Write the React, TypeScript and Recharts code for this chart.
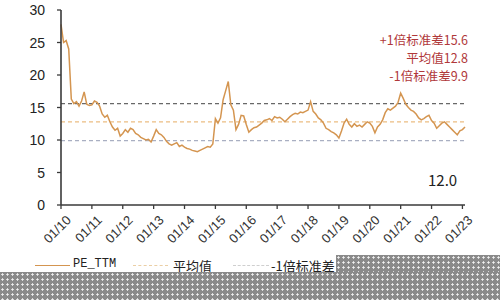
import { LineChart, Line, XAxis, YAxis, ReferenceLine } from 'recharts'

// month index 0 = 2010-01
const YEAR_LABELS = ['01/10', '01/11', '01/12', '01/13', '01/14', '01/15', '01/16', '01/17', '01/18', '01/19', '01/20', '01/21', '01/22', '01/23']
const Y_TICKS = [0, 5, 10, 15, 20, 25, 30]

const PE_2010 = [27.8, 25.0, 25.3, 24.0, 16.3, 15.6, 15.9, 15.2, 16.0, 17.4, 15.5, 15.3]
const PE_2011 = [15.4, 16.0, 15.8, 15.2, 14.0, 13.5, 13.8, 12.8, 12.0, 11.5, 11.8, 10.6]
const PE_2012 = [11.0, 11.6, 11.2, 11.8, 11.6, 11.0, 10.8, 10.4, 10.2, 10.0, 10.1, 9.7]
const PE_2013 = [10.6, 11.6, 11.0, 10.8, 10.4, 9.8, 9.4, 9.2, 9.4, 9.6, 9.0, 9.2]
const PE_2014 = [8.9, 8.7, 8.6, 8.4, 8.3, 8.2, 8.4, 8.6, 8.8, 9.0, 8.9, 9.4]
const PE_2015 = [13.3, 12.6, 13.4, 16.2, 17.6, 19.0, 15.4, 14.6, 11.6, 12.4, 13.8, 13.7]
const PE_2016 = [12.4, 11.2, 11.6, 11.9, 12.0, 12.3, 12.6, 13.0, 13.1, 13.3, 13.0, 13.6]
const PE_2017 = [13.4, 13.5, 13.2, 12.8, 13.2, 13.6, 13.9, 14.1, 14.0, 14.3, 14.2, 14.4]
const PE_2018 = [14.6, 15.9, 14.4, 14.0, 13.4, 13.1, 12.6, 11.8, 11.6, 11.3, 11.1, 10.8]
const PE_2019 = [10.3, 11.4, 12.6, 13.2, 12.4, 12.0, 12.5, 12.1, 12.3, 12.0, 12.4, 12.8]
const PE_2020 = [12.6, 12.1, 11.1, 12.0, 12.4, 13.1, 14.2, 14.8, 14.6, 14.9, 15.2, 15.8]
const PE_2021 = [17.2, 16.4, 15.5, 15.0, 14.6, 14.4, 14.0, 13.4, 13.1, 13.3, 13.6, 13.8]
const PE_2022 = [13.0, 12.6, 11.8, 12.2, 12.6, 12.8, 12.4, 12.0, 11.6, 11.2, 10.8, 11.4]
const PE_2023 = [11.6, 12.0]

const PLUS_STD = 15.6
const MEAN = 12.8
const MINUS_STD = 9.9
const LAST = 12.0

const peSeries = [
  ...PE_2010, ...PE_2011, ...PE_2012, ...PE_2013, ...PE_2014, ...PE_2015, ...PE_2016,
  ...PE_2017, ...PE_2018, ...PE_2019, ...PE_2020, ...PE_2021, ...PE_2022, ...PE_2023,
]
const data = peSeries.map((pe, i) => ({ m: i, pe }))
const xTicks = YEAR_LABELS.map((_, i) => i * 12)

const LINE_COLOR = '#d49550'
const AXIS_COLOR = '#3a3a3a'
const CJK = "'Noto Sans CJK SC', sans-serif"
const SANS = "'Liberation Sans', Arial, sans-serif"

type TickProps = { x?: number; y?: number; payload?: { value: number } }

function XTick({ x, y, payload }: TickProps) {
  const label = YEAR_LABELS[Math.round((payload?.value ?? 0) / 12)]
  return (
    <g transform={`translate(${(x ?? 0) + 4},${(y ?? 0) + 3})`}>
      <text textAnchor="end" transform="rotate(-45)" dy="0.75em" fontSize={13} fill="#333" fontFamily={SANS}>
        {label}
      </text>
    </g>
  )
}

function YTick({ x, y, payload }: TickProps) {
  // x arrives at the end of the tick line
  return (
    <text x={(x ?? 0) - 10} y={y} textAnchor="end" dy="0.36em" fontSize={14} fill="#222" fontFamily={SANS}>
      {payload?.value}
    </text>
  )
}

export default function App() {
  return (
    <div style={{ position: 'absolute', left: 0, top: 0, width: 500, height: 300, background: '#fff' }}>
      <LineChart width={500} height={300} data={data} margin={{ top: 10, right: 35, left: 0, bottom: 0 }}>
        <XAxis
          dataKey="m"
          type="number"
          domain={[0, 157]}
          ticks={xTicks}
          interval={0}
          tick={<XTick />}
          height={95}
          tickSize={4}
          stroke={AXIS_COLOR}
          axisLine={{ stroke: AXIS_COLOR, strokeWidth: 1.6 }}
          tickLine={{ stroke: AXIS_COLOR, strokeWidth: 1.3 }}
        />
        <YAxis
          domain={[0, 30]}
          ticks={Y_TICKS}
          width={61}
          tickSize={4}
          tick={<YTick />}
          stroke={AXIS_COLOR}
          axisLine={{ stroke: AXIS_COLOR, strokeWidth: 1.6 }}
          tickLine={{ stroke: AXIS_COLOR, strokeWidth: 1.3 }}
        />
        <ReferenceLine y={PLUS_STD} stroke="#686868" strokeDasharray="4 3" strokeWidth={1.3} />
        <ReferenceLine y={MEAN} stroke="#ebbd82" strokeDasharray="4 3" strokeWidth={1.2} />
        <ReferenceLine y={MINUS_STD} stroke="#a9afc2" strokeDasharray="4 3" strokeWidth={1.2} />
        <Line
          type="linear"
          dataKey="pe"
          stroke={LINE_COLOR}
          strokeWidth={1.5}
          dot={false}
          isAnimationActive={false}
        />
      </LineChart>

      {/* annotations */}
      <div style={{ position: 'absolute', right: 32, top: 31, textAlign: 'right', color: '#b0383a', fontFamily: CJK, fontSize: 12.5, lineHeight: '18px' }}>
        <div>+1倍标准差{PLUS_STD.toFixed(1)}</div>
        <div>平均值{MEAN.toFixed(1)}</div>
        <div>-1倍标准差{MINUS_STD.toFixed(1)}</div>
      </div>
      <div style={{ position: 'absolute', left: 428, top: 169, color: '#222', fontFamily: CJK, fontSize: 15 }}>
        {LAST.toFixed(1)}
      </div>

      {/* legend */}
      <div style={{ position: 'absolute', left: 0, top: 257, height: 18, width: 500, fontFamily: CJK, fontSize: 13, color: '#222' }}>
        <div style={{ position: 'absolute', left: 35, top: 8, width: 35, borderTop: `1.5px solid ${LINE_COLOR}` }} />
        <div style={{ position: 'absolute', left: 73, top: 0, fontFamily: "'Liberation Mono', monospace", fontSize: 12 }}>PE_TTM</div>
        <div style={{ position: 'absolute', left: 133, top: 8, width: 35, borderTop: '1.5px dashed #ebcfa5' }} />
        <div style={{ position: 'absolute', left: 173, top: -1 }}>平均值</div>
        <div style={{ position: 'absolute', left: 233, top: 8, width: 36, borderTop: '1.5px dashed #cfcfcf' }} />
        <div style={{ position: 'absolute', left: 271, top: -1 }}>-1倍标准差</div>
      </div>

      {/* mosaic band over the bottom of the image */}
      <div style={{ position: 'absolute', left: 336, top: 255, width: 164, height: 17, background: '#8a8a8a', backgroundImage: 'radial-gradient(circle, #f2f2f2 0.9px, transparent 1.3px)', backgroundSize: '5px 5px' }} />
      <div style={{ position: 'absolute', left: 0, top: 272, width: 500, height: 28, background: '#8a8a8a', backgroundImage: 'radial-gradient(circle, #f2f2f2 0.9px, transparent 1.3px)', backgroundSize: '5px 5px' }} />
    </div>
  )
}
